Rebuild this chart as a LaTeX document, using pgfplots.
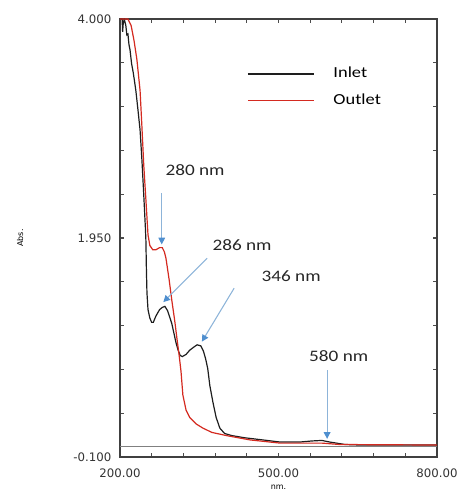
\documentclass[border=0pt]{standalone}
\usepackage{pgfplots}
\pgfplotsset{compat=1.18}
\usepackage{fontspec}
\setmainfont{DejaVu Sans}
\newfontfamily\annfont[FakeStretch=1.2]{Carlito}
\usetikzlibrary{arrows.meta}
\definecolor{inletc}{HTML}{1E1E1E}
\definecolor{outletc}{HTML}{D42A20}
\definecolor{arrowline}{HTML}{8DB4D9}
\definecolor{arrowhead}{HTML}{4F8FCF}
\begin{document}
\begin{tikzpicture}[x=1pt,y=1pt]
\useasboundingbox (-90,-26.25) rectangle (253.5,342.75);
\begin{axis}[
 at={(0,0)}, anchor=south west,
 scale only axis, width=237.75pt, height=328.5pt,
 xmin=200, xmax=800, ymin=-0.1, ymax=4.0,
 xtick={200,260,...,800}, xticklabels={200.00,,,,,500.00,,,,,800.00},
 ytick={-0.1,0.31,0.72,1.13,1.54,1.95,2.36,2.77,3.18,3.59,4.0},
 yticklabels={-0.100,,,,,1.950,,,,,4.000},
 tick align=inside, major tick length=3pt,
 tick style={black!70, line width=0.8pt},
 axis line style={black!75, line width=1pt},
 ticklabel style={font=\fontsize{8.8}{10}\selectfont, text=black!80},
 xticklabel style={yshift=-5pt},
 yticklabel style={xshift=-3pt},
 xlabel={nm.}, ylabel={Abs.},
 label style={font=\fontsize{6}{7}\selectfont},
 xlabel style={at={(axis description cs:0.5,-0.068)}, anchor=center},
 ylabel style={at={(axis description cs:-0.315,0.5)}, anchor=center},
 legend style={draw=none, fill=none, at={(axis description cs:0.3874,0.912)}, anchor=north west,
   font=\annfont\fontsize{11.5}{13}\selectfont,
   nodes={text height=11pt, text depth=5pt, inner xsep=14pt}},
 legend cell align=left,
 legend image code/.code={\draw[#1, line width=1.3pt] (0pt,0pt) -- (49.5pt,0pt);},
]
\addplot[color=inletc, line width=0.9pt] coordinates {
(200,4.0)(204,4.0)(205,3.88)(206,3.95)(208,4.0)(211,3.94)(213,3.85)(215,3.86)(217,3.76)(219,3.71)(222,3.58)(225,3.50)(228,3.40)(230,3.33)(234,3.15)(238,2.96)(241.5,2.68)(245,2.35)(248,2.05)(249,1.93)(250,1.65)(251,1.44)(253,1.28)(256.5,1.20)(260,1.16)(263,1.16)(268,1.22)(275,1.28)(280,1.30)(285,1.31)(290,1.27)(294,1.21)(298,1.15)(302,1.06)(306,0.97)(310,0.90)(314,0.85)(318,0.84)(325,0.86)(332,0.90)(340,0.93)(346,0.95)(353,0.94)(358,0.89)(362,0.82)(366,0.73)(370,0.57)(376,0.41)(382,0.27)(389,0.17)(398,0.12)(412,0.10)(436,0.08)(470,0.06)(503,0.04)(540,0.04)(563,0.05)(582,0.055)(597,0.04)(626,0.017)(654,0.012)(800,0.012)
};
\addlegendentry{Inlet}
\addplot[color=outletc, line width=0.9pt] coordinates {
(200,4.0)(215,4.0)(221,3.94)(226.5,3.80)(232,3.62)(238,3.33)(241.5,2.99)(245,2.63)(249,2.31)(253,1.98)(256.5,1.88)(262,1.84)(268,1.84)(275,1.86)(280,1.86)(284,1.82)(287,1.76)(290,1.66)(293,1.56)(298,1.37)(304,1.16)(308,1.0)(312,0.85)(315.5,0.70)(319,0.48)(325,0.34)(332,0.27)(344,0.21)(357,0.17)(374,0.13)(402,0.10)(446,0.06)(503,0.03)(582,0.03)(616,0.017)(800,0.012)
};
\addlegendentry{Outlet}
\draw[gray, line width=0.6pt] (axis cs:200,0) -- (axis cs:800,0);
\tikzset{ann/.style={arrowline, line width=0.8pt, -{Triangle[length=5pt,width=5pt,fill=arrowhead,color=arrowhead]}},
  lab/.style={font=\annfont\fontsize{12}{14}\selectfont, text=black!85}}
\draw[ann] (axis cs:279,2.37) -- (axis cs:279,1.89);
\node[lab] at (axis cs:342,2.59) {280 nm};
\draw[ann] (axis cs:365,1.76) -- (axis cs:282,1.35);
\node[lab] at (axis cs:431,1.88) {286 nm};
\draw[ann] (axis cs:416,1.48) -- (axis cs:355,0.98);
\node[lab] at (axis cs:524,1.59) {346 nm};
\draw[ann] (axis cs:592,0.71) -- (axis cs:592,0.07);
\node[lab] at (axis cs:614,0.84) {580 nm};
\end{axis}
\end{tikzpicture}
\end{document}
